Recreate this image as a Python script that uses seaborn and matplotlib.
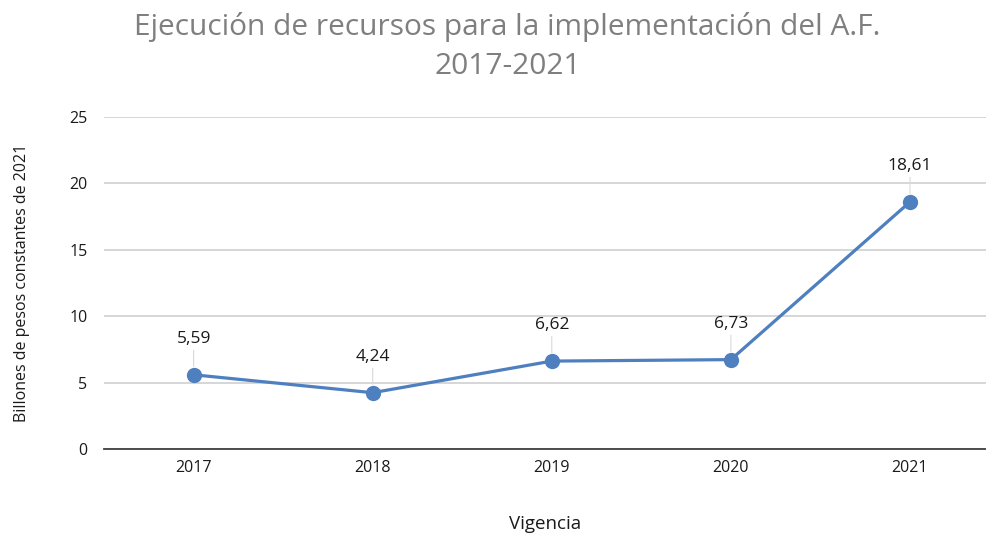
import pandas as pd
import matplotlib.pyplot as plt
import seaborn as sns

# Data
years = ["2017", "2018", "2019", "2020", "2021"]
values = [5.59, 4.24, 6.62, 6.73, 18.61]
labels = ["5,59", "4,24", "6,62", "6,73", "18,61"]
yticks = [0, 5, 10, 15, 20, 25]

df = pd.DataFrame({"Vigencia": years, "Valor": values})

sns.set_theme(style="white")
plt.rcParams["font.family"] = ["Open Sans", "DejaVu Sans"]

fig = plt.figure(figsize=(9.87, 5.37), dpi=100)
ax = fig.add_axes([0.1054, 0.1639, 0.8946, 0.6181])

line_color = "#4E7FBF"
sns.lineplot(data=df, x="Vigencia", y="Valor", ax=ax, color=line_color,
             linewidth=2.3, marker="o", markersize=11, markeredgewidth=0,
             sort=False, zorder=3)

# data labels with thin leader lines
for i, (v, lab) in enumerate(zip(values, labels)):
    ax.annotate(lab, xy=(i, v), xytext=(0, 20), textcoords="offset points",
                ha="center", va="bottom", fontsize=12.5, color="#1a1a1a",
                arrowprops=dict(arrowstyle="-", color="#d9d9d9", lw=0.8,
                                shrinkA=0, shrinkB=6))

ax.set_ylim(0, 25)
ax.set_yticks(yticks)
ax.set_xlim(-0.5, 4.43)
ax.grid(axis="y", color="#d0d0d0", linewidth=1.2)
ax.set_axisbelow(True)
for s in ["top", "right", "left"]:
    ax.spines[s].set_visible(False)
ax.spines["bottom"].set_color("#404040")
ax.spines["bottom"].set_linewidth(1.3)
ax.tick_params(axis="both", length=0, labelsize=11.5, colors="#1a1a1a")
ax.tick_params(axis="y", pad=12)
ax.tick_params(axis="x", pad=8)

ax.set_xlabel("Vigencia", fontsize=13.5, color="#1a1a1a", labelpad=28)
ax.set_ylabel("Billones de pesos constantes de 2021", fontsize=11.5,
              color="#1a1a1a", labelpad=28)

title_color = "#7f7f7f"
fig.text(0.514, 1 - 27 / 537, "Ejecución de recursos para la implementación del A.F.",
         ha="center", va="center", fontsize=21.5, color=title_color)
fig.text(0.514, 1 - 67 / 537, "2017-2021",
         ha="center", va="center", fontsize=21.5, color=title_color)

fig.savefig("out.png", dpi=100)
